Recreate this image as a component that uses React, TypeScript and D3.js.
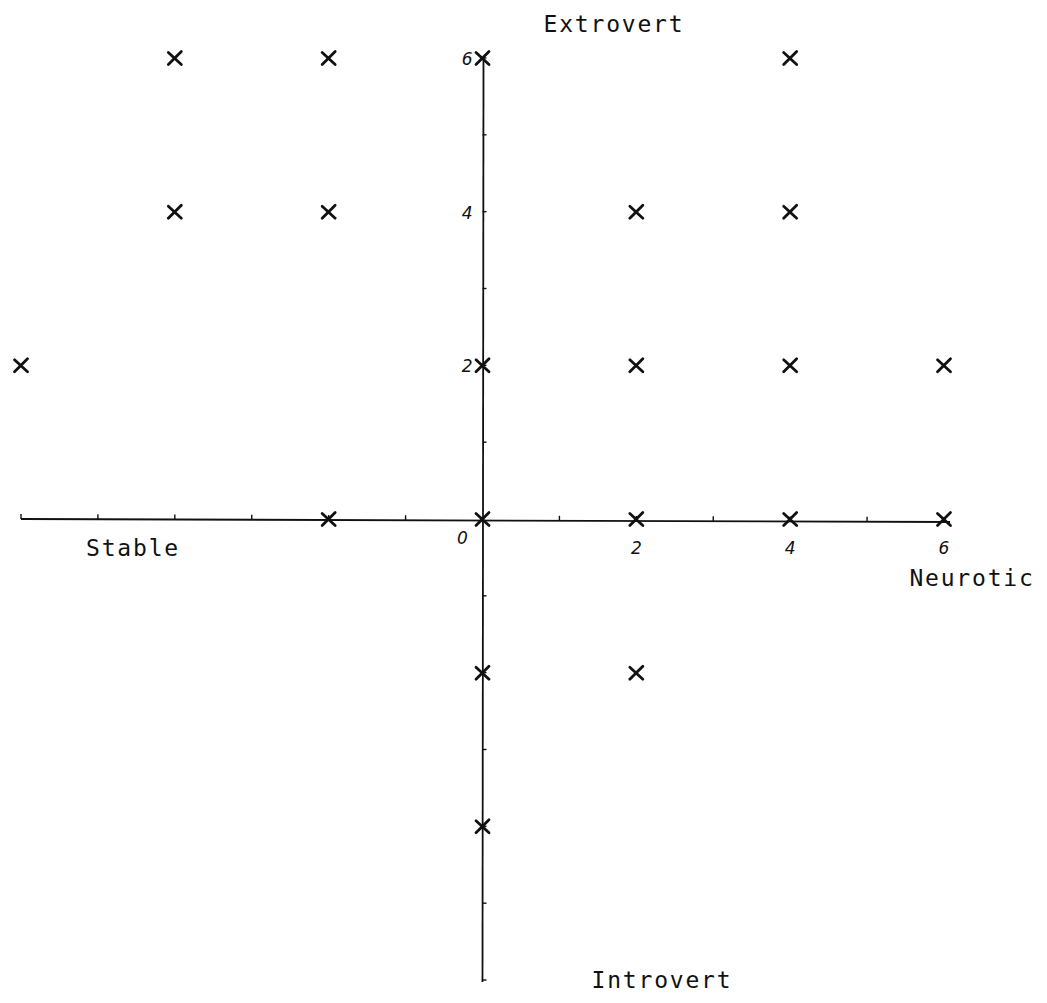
import React from "react";
import * as d3 from "d3";

const xValues = [-4, -2, 0, 4, -4, -2, 2, 4, -6, 0, 2, 4, 6, -2, 0, 2, 4, 6, 0, 2, 0];
const yValues = [6, 6, 6, 6, 4, 4, 4, 4, 2, 2, 2, 2, 2, 0, 0, 0, 0, 0, -2, -2, -4];
const tickValues = [-6, -5, -4, -3, -2, -1, 1, 2, 3, 4, 5, 6];
const xTickLabels = ["2", "4", "6"];
const yTickLabels = ["2", "4", "6"];
const axisTitles = { top: "Extrovert", bottom: "Introvert", left: "Stable", right: "Neurotic" };

const W = 1047;
const H = 1003;

export default function App() {
  const x = d3.scaleLinear().domain([-6, 6]).range([21, 944]);
  const y = d3.scaleLinear().domain([-6, 6]).range([980, 58]);
  const x0 = x(0);
  const y0 = y(0);
  const ink = "#111";
  const titleStyle: React.CSSProperties = {
    fontFamily: "'DejaVu Sans Mono', monospace",
    fontSize: 23,
    letterSpacing: 1.8,
    fill: ink,
  };
  const handStyle: React.CSSProperties = {
    fontFamily: "'DejaVu Sans', sans-serif",
    fontStyle: "italic",
    fontSize: 17,
    fill: ink,
  };
  const points = xValues.map((v, i) => ({ x: v, y: yValues[i] }));
  const s = 6.5;
  return (
    <svg width={W} height={H} style={{ position: "absolute", left: 0, top: 0, background: "#fff" }}>
      <rect width={W} height={H} fill="#fff" />
      {/* axes */}
      <line x1={x(-6)} x2={x(6) + 6} y1={y0} y2={y0 + 3} stroke={ink} strokeWidth={1.8} />
      <line x1={x0 + 1} x2={x0} y1={y(6)} y2={y(-6) + 2} stroke={ink} strokeWidth={1.8} />
      {/* ticks */}
      {tickValues.map((t) => (
        <line key={"xt" + t} x1={x(t)} x2={x(t)} y1={y0 + ((x(t) - x(-6)) / 925) * 3} y2={y0 + ((x(t) - x(-6)) / 925) * 3 - 5} stroke={ink} strokeWidth={1.4} />
      ))}
      {tickValues.map((t) => (
        <line key={"yt" + t} x1={x0} x2={x0 + 4} y1={y(t)} y2={y(t)} stroke={ink} strokeWidth={1.4} />
      ))}
      {/* tick labels */}
      {xTickLabels.map((l) => (
        <text key={"xl" + l} x={x(+l)} y={y0 + 35} textAnchor="middle" style={handStyle}>
          {l}
        </text>
      ))}
      <text x={x0 - 20} y={y0 + 25} textAnchor="middle" style={handStyle}>
        0
      </text>
      {yTickLabels.map((l) => (
        <text key={"yl" + l} x={x0 - 10} y={y(+l) + 7} textAnchor="end" style={handStyle}>
          {l}
        </text>
      ))}
      {/* points */}
      {points.map((p, i) => {
        const cx = x(p.x);
        const cy = y(p.y);
        return (
          <g key={i} stroke={ink} strokeWidth={2.8} strokeLinecap="round">
            <line x1={cx - s} y1={cy - s + 1} x2={cx + s} y2={cy + s} />
            <line x1={cx + s} y1={cy - s} x2={cx - s} y2={cy + s} />
          </g>
        );
      })}
      {/* axis titles */}
      <text x={614} y={32} textAnchor="middle" style={titleStyle}>
        {axisTitles.top}
      </text>
      <text x={662} y={988} textAnchor="middle" style={titleStyle}>
        {axisTitles.bottom}
      </text>
      <text x={133} y={556} textAnchor="middle" style={titleStyle}>
        {axisTitles.left}
      </text>
      <text x={972} y={586} textAnchor="middle" style={titleStyle}>
        {axisTitles.right}
      </text>
    </svg>
  );
}
